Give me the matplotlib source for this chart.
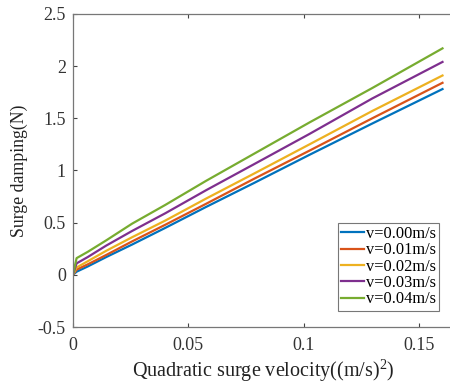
import matplotlib.pyplot as plt

# quadratic surge velocity (m/s)^2
x = [0, 0.0016, 0.0064, 0.0144, 0.0256, 0.04, 0.0576, 0.0784, 0.1024, 0.1296, 0.16]

damping = {
    "v=0.00m/s": [0, 0.03, 0.08, 0.17, 0.29, 0.45, 0.65, 0.88, 1.15, 1.45, 1.78],
    "v=0.01m/s": [0, 0.05, 0.10, 0.19, 0.32, 0.48, 0.68, 0.92, 1.19, 1.50, 1.84],
    "v=0.02m/s": [0, 0.07, 0.13, 0.23, 0.36, 0.52, 0.73, 0.97, 1.25, 1.57, 1.91],
    "v=0.03m/s": [0, 0.11, 0.17, 0.28, 0.42, 0.59, 0.81, 1.06, 1.35, 1.69, 2.04],
    "v=0.04m/s": [0, 0.16, 0.22, 0.33, 0.49, 0.67, 0.90, 1.16, 1.46, 1.79, 2.17],
}
colors = ["#0072BD", "#D95319", "#EDB120", "#7E2F8E", "#77AC30"]

plt.rcParams["font.family"] = ["Liberation Serif", "DejaVu Serif"]
plt.rcParams["mathtext.fontset"] = "custom"
plt.rcParams["mathtext.rm"] = "Liberation Serif"
plt.rcParams["mathtext.it"] = "Liberation Serif:italic"

fig = plt.figure(figsize=(4.5, 3.87), dpi=100)
ax = fig.add_axes([0.162, 0.155, 0.847, 0.809])

for (name, vals), c in zip(damping.items(), colors):
    ax.plot(x, vals, color=c, lw=1.6, label=name)

ax.set_xlim(0, 0.165)
ax.set_ylim(-0.5, 2.5)
ax.set_xticks([0, 0.05, 0.1, 0.15])
ax.set_xticklabels(["0", "0.05", "0.1", "0.15"], fontsize=13)
ax.set_yticks([-0.5, 0, 0.5, 1, 1.5, 2, 2.5])
ax.set_yticklabels(["-0.5", "0", "0.5", "1", "1.5", "2", "2.5"], fontsize=13)
ax.tick_params(direction="in", top=True, length=3, width=0.8, colors="#444444",
               labelcolor="#333333")
ax.tick_params(axis="x", pad=7)
ax.tick_params(axis="y", pad=5)
for s in ax.spines.values():
    s.set_color("#777777")
    s.set_linewidth(0.9)
ax.spines["right"].set_visible(False)

ax.set_xlabel("Quadratic surge velocity((m/s)$\\mathrm{^2}$)", fontsize=14.5, color="#222222", labelpad=3)
ax.set_ylabel("Surge damping(N)", fontsize=12.8, color="#222222", labelpad=7)

leg = ax.legend(loc="lower right", bbox_to_anchor=(0.961, 0.052), fontsize=11.8,
                handlelength=1.4, handletextpad=0.1, borderpad=0.2,
                labelspacing=0.02, fancybox=False, framealpha=1, borderaxespad=0)
leg.get_frame().set_edgecolor("#777777")
leg.get_frame().set_linewidth(0.8)

fig.savefig("out.png", dpi=100)
